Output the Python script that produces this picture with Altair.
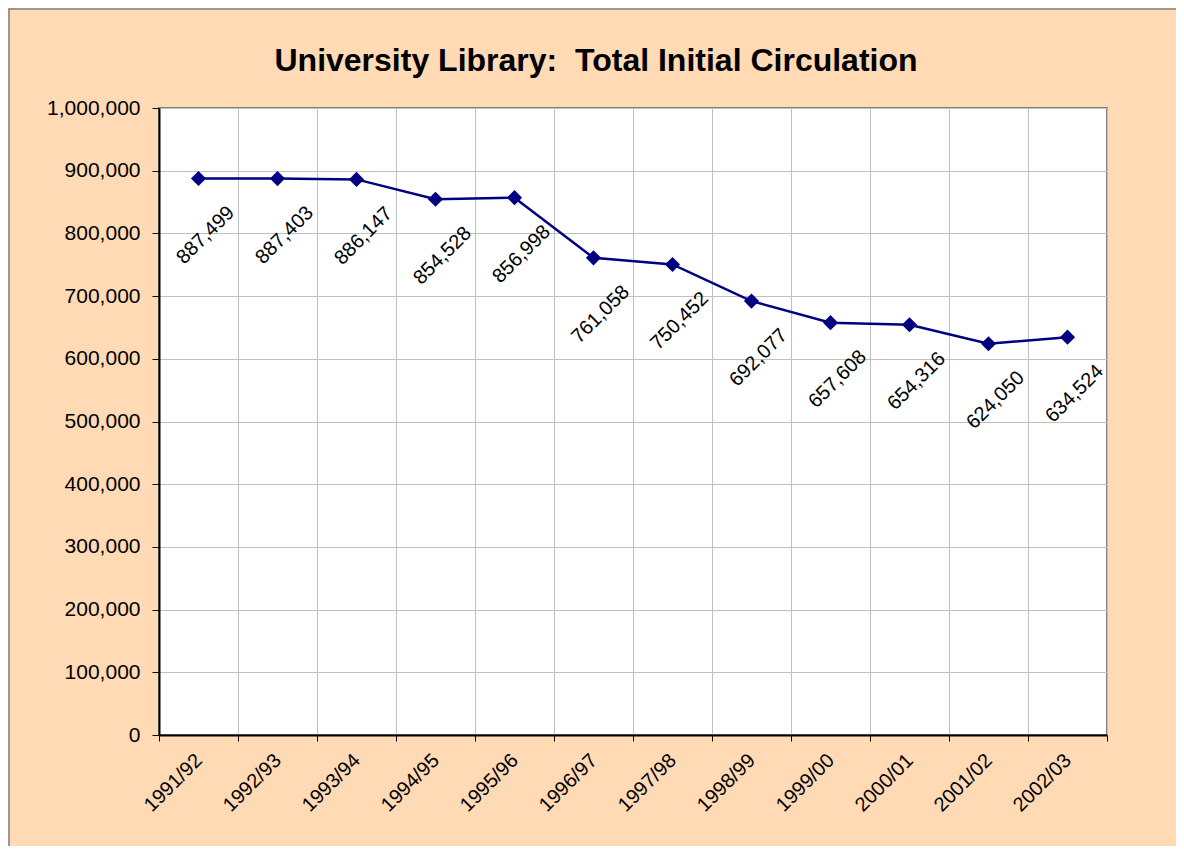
import altair as alt
import pandas as pd

years = ["1991/92", "1992/93", "1993/94", "1994/95", "1995/96", "1996/97",
         "1997/98", "1998/99", "1999/00", "2000/01", "2001/02", "2002/03"]
circulation = [887499, 887403, 886147, 854528, 856998, 761058,
               750452, 692077, 657608, 654316, 624050, 634524]
y_ticks = list(range(0, 1000001, 100000))
title_text = ["University Library:\u00a0 Total Initial Circulation"]

df = pd.DataFrame({"year": years, "circ": circulation})

FONT = "Liberation Sans"
NAVY = "#000080"

x_enc = alt.X(
    "year:N", sort=years,
    scale=alt.Scale(type="band", paddingInner=0, paddingOuter=0),
    axis=alt.Axis(
        title=None, tickBand="extent", grid=True, gridColor="#C0C0C0", gridWidth=1,
        labelAngle=-45, labelAlign="right", labelBaseline="middle",
        labelPadding=16, tickSize=6, tickColor="#000000", domainColor="#000000",
        domainWidth=2, labelFontSize=20, labelFont=FONT, labelColor="#000000",
    ),
)
y_enc = alt.Y(
    "circ:Q",
    scale=alt.Scale(domain=[0, 1000000], nice=False),
    axis=alt.Axis(
        title=None, values=y_ticks, format=",.0f", grid=True, gridColor="#C0C0C0",
        gridWidth=1, tickSize=7, tickColor="#000000", domainColor="#000000",
        domainWidth=2, labelPadding=12, labelFontSize=21, labelFont=FONT,
        labelColor="#000000",
    ),
)

base = alt.Chart(df).encode(x=x_enc, y=y_enc)

line = base.mark_line(color=NAVY, strokeWidth=2.5)
points = base.mark_point(shape="diamond", filled=True, size=230, color=NAVY, opacity=1)
labels = base.mark_text(
    angle=315, align="center", baseline="middle", dx=-35, dy=45,
    fontSize=20, font=FONT, color="#000000",
).encode(text=alt.Text("circ:Q", format=","))

one = pd.DataFrame({"t": title_text})

border = alt.Chart(one).mark_rect(
    fillOpacity=0, stroke="#808080", strokeWidth=1.5
).encode(
    x=alt.value(-150), x2=alt.value(1200), y=alt.value(-99), y2=alt.value(900)
)

title = alt.Chart(one).mark_text(
    align="center", baseline="alphabetic", fontSize=32, fontWeight="bold",
    font=FONT, color="#000000",
).encode(text="t:N", x=alt.value(437), y=alt.value(-37))

chart = alt.layer(border, title, line, points, labels).properties(
    width=948,
    height=627,
    padding={"left": 151, "top": 100, "right": 69, "bottom": 111},
    autosize=alt.AutoSizeParams(type="none"),
).configure(
    background="#FFDAB5",
).configure_view(
    fill="#FFFFFF", stroke="#808080", strokeWidth=2,
)

chart.save("out.html", embed_options={"renderer": "svg", "actions": False})
